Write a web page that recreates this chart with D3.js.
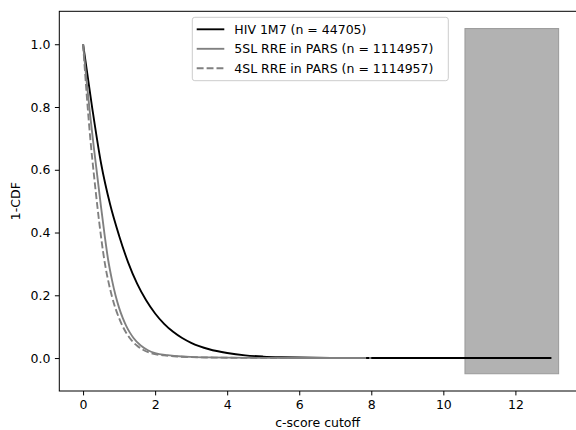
<!DOCTYPE html>
<html>
<head>
<meta charset="utf-8">
<script src="https://cdn.jsdelivr.net/npm/d3@7"></script>
<style>
  body { margin: 0; background: #fff; }
  svg text { font-family: "DejaVu Sans", sans-serif; }
</style>
</head>
<body>
<div id="chart"></div>
<script>
// c-score cutoffs and 1-CDF values
const hivX = [0, 0.25, 0.5, 0.75, 1, 1.25, 1.5, 1.75, 2, 2.25, 2.5, 2.75, 3, 3.5, 4, 4.5, 5, 5.5, 6, 7, 8, 9, 10, 11, 12, 13];
const hivY = [1.0, 0.80, 0.62, 0.49, 0.39, 0.305, 0.237, 0.184, 0.142, 0.109, 0.0835, 0.0637, 0.0485, 0.028, 0.016, 0.0085, 0.0047, 0.0027, 0.0016, 0.0006, 0.0002, 0.0001, 0, 0, 0, 0];

const sl5X = [0, 0.1, 0.2, 0.3, 0.4, 0.5, 0.6, 0.7, 0.8, 0.9, 1.0, 1.1, 1.2, 1.3, 1.4, 1.6, 1.8, 2.0, 2.35, 2.75, 3, 3.5, 4, 5, 6, 7, 7.8];
const sl5Y = [1.0, 0.88, 0.77, 0.67, 0.575, 0.48, 0.39, 0.31, 0.25, 0.20, 0.16, 0.128, 0.102, 0.081, 0.064, 0.04, 0.025, 0.016, 0.0092, 0.005, 0.0036, 0.002, 0.0012, 0.0005, 0.0002, 0.0001, 0];

const sl4X = [0, 0.1, 0.2, 0.3, 0.4, 0.5, 0.6, 0.7, 0.8, 0.9, 1.0, 1.1, 1.2, 1.3, 1.5, 1.7, 1.9, 2.25, 2.6, 3, 3.5, 4, 5, 6, 7, 8];
const sl4Y = [1.0, 0.84, 0.70, 0.585, 0.48, 0.385, 0.305, 0.245, 0.197, 0.158, 0.127, 0.101, 0.080, 0.063, 0.039, 0.024, 0.015, 0.0085, 0.005, 0.003, 0.0017, 0.001, 0.0004, 0.0002, 0.0001, 0];

const legendLabels = ["HIV 1M7 (n = 44705)", "5SL RRE in PARS (n = 1114957)", "4SL RRE in PARS (n = 1114957)"];
const xTicks = [0, 2, 4, 6, 8, 10, 12];
const yTicks = [0.0, 0.2, 0.4, 0.6, 0.8, 1.0];

// shaded block on the right (x span, y span)
const spanX = [10.6, 13.2];
const spanY = [-0.05, 1.05];

const width = 576, height = 430;
const margin = { left: 59.3, right: -1, top: 11.3, bottom: 39 };

const svg = d3.select("#chart").append("svg")
    .attr("width", width)
    .attr("height", height);

const x = d3.scaleLinear()
    .domain([-0.66, 13.71])
    .range([margin.left, width - margin.right]);

const y = d3.scaleLinear()
    .domain([-0.105, 1.105])
    .range([height - margin.bottom, margin.top]);

const series = [
    { xs: hivX, ys: hivY, color: "#000000", dash: null },
    { xs: sl5X, ys: sl5Y, color: "#808080", dash: null },
    { xs: sl4X, ys: sl4Y, color: "#808080", dash: "6.9,3" }
];

const line = d3.line()
    .x(d => x(d[0]))
    .y(d => y(d[1]))
    .curve(d3.curveMonotoneX);

const plot = svg.append("g");

// Grey box
plot.append("rect")
    .attr("x", x(spanX[0]))
    .attr("y", y(spanY[1]))
    .attr("width", x(spanX[1]) - x(spanX[0]))
    .attr("height", y(spanY[0]) - y(spanY[1]))
    .attr("fill", "#b2b2b2")
    .attr("stroke", "#9a9a9a")
    .attr("stroke-width", 1);

// Curves
series.forEach(s => {
    plot.append("path")
        .datum(s.xs.map((v, i) => [v, s.ys[i]]))
        .attr("d", line)
        .attr("fill", "none")
        .attr("stroke", s.color)
        .attr("stroke-width", 1.875)
        .attr("stroke-dasharray", s.dash);
});

// Axes
const xAxis = d3.axisBottom(x).tickValues(xTicks).tickFormat(d3.format("d"))
    .tickSize(4.4).tickPadding(4.4);
const yAxis = d3.axisLeft(y).tickValues(yTicks).tickFormat(d3.format(".1f"))
    .tickSize(4.4).tickPadding(4.4);

const gx = svg.append("g")
    .attr("transform", `translate(0,${height - margin.bottom})`)
    .call(xAxis);
const gy = svg.append("g")
    .attr("transform", `translate(${margin.left},0)`)
    .call(yAxis);

[gx, gy].forEach(g => {
    g.select(".domain").remove();
    g.selectAll("line").attr("stroke", "#000").attr("stroke-width", 1);
    g.selectAll("text").attr("font-size", "12.5px").attr("fill", "#000")
        .style("font-family", "'DejaVu Sans', sans-serif");
});

// Frame (left, top, bottom spines)
svg.append("rect")
    .attr("x", margin.left)
    .attr("y", margin.top)
    .attr("width", width - margin.right - margin.left)
    .attr("height", height - margin.bottom - margin.top)
    .attr("fill", "none")
    .attr("stroke", "#000")
    .attr("stroke-width", 1);

// Axis titles
svg.append("text")
    .attr("x", (margin.left + width) / 2)
    .attr("y", 427)
    .attr("text-anchor", "middle")
    .attr("font-size", "12.5px")
    .text("c-score cutoff");

svg.append("text")
    .attr("transform", `translate(20,${(margin.top + height - margin.bottom) / 2}) rotate(-90)`)
    .attr("text-anchor", "middle")
    .attr("font-size", "12.5px")
    .text("1-CDF");

// Legend
const legend = svg.append("g").attr("transform", "translate(192.3,17.3)");
legend.append("rect")
    .attr("width", 256)
    .attr("height", 63.4)
    .attr("rx", 2.5)
    .attr("fill", "#fff")
    .attr("fill-opacity", 0.8)
    .attr("stroke", "#cccccc")
    .attr("stroke-width", 1);

legendLabels.forEach((lab, i) => {
    const ly = 12 + i * 19.5;
    legend.append("line")
        .attr("x1", 4.4).attr("x2", 32)
        .attr("y1", ly).attr("y2", ly)
        .attr("stroke", series[i].color)
        .attr("stroke-width", 1.875)
        .attr("stroke-dasharray", series[i].dash);
    legend.append("text")
        .attr("x", 42)
        .attr("y", ly)
        .attr("dy", "0.36em")
        .attr("font-size", "12.5px")
        .text(lab);
});
</script>
</body>
</html>
